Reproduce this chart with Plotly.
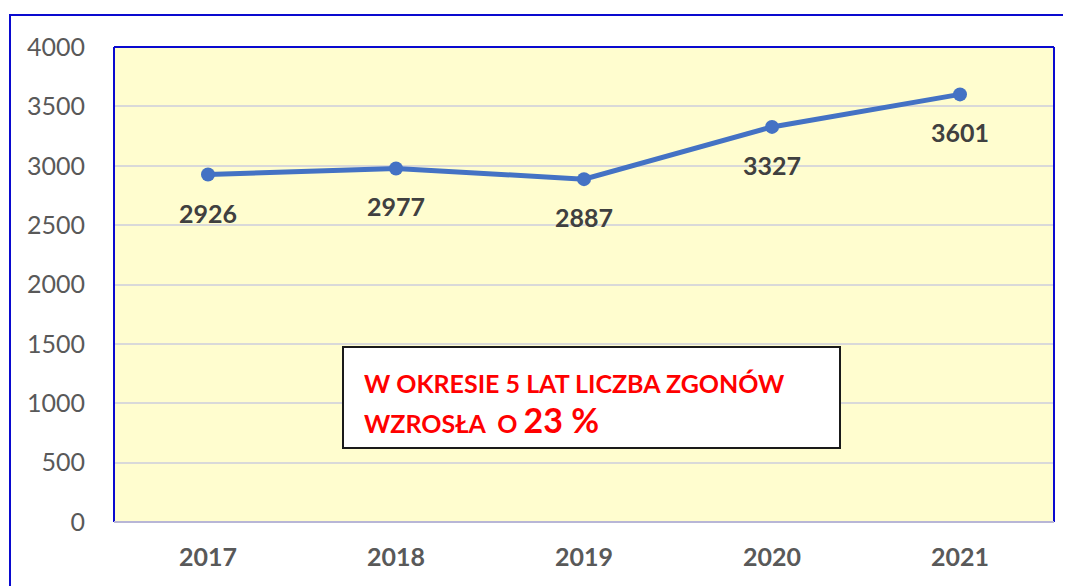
import plotly.graph_objects as go

years = ["2017", "2018", "2019", "2020", "2021"]
deaths = [2926, 2977, 2887, 3327, 3601]
y_ticks = [0, 500, 1000, 1500, 2000, 2500, 3000, 3500, 4000]

LINE = "#4472C4"
FRAME = "#0A0ACF"
FONT = "Lato, 'Open Sans', sans-serif"

pos = list(range(len(years)))

fig = go.Figure()
fig.add_trace(go.Scatter(
    x=pos, y=deaths, mode="lines+markers",
    line={"color": LINE, "width": 5},
    marker={"color": LINE, "size": 14},
    showlegend=False, hoverinfo="skip",
))

# value labels below the points
for p, val in zip(pos, deaths):
    fig.add_annotation(
        x=p, y=val, text=f"<b>{val}</b>", showarrow=False, yshift=-38,
        font={"family": FONT, "size": 25, "color": "#404040"},
    )

# note box (paper coords relative to a 940x475 plot area)
fig.add_shape(type="rect", xref="paper", yref="paper",
              x0=229 / 940, x1=726 / 940,
              y0=74 / 475, y1=175 / 475,
              fillcolor="white", line={"color": "#1a1a1a", "width": 2})
note_font = {"family": FONT, "size": 25, "color": "#FF0000"}
fig.add_annotation(
    xref="paper", yref="paper", x=248 / 940, y=139 / 475,
    xanchor="left", yanchor="middle", showarrow=False,
    text="<b>W OKRESIE 5 LAT LICZBA ZGONÓW</b>", font=note_font,
)
fig.add_annotation(
    xref="paper", yref="paper", x=248 / 940, y=103 / 475,
    xanchor="left", yanchor="middle", showarrow=False,
    text="<b>WZROSŁA  O <span style='font-size:34px'>23 %</span></b>",
    font=note_font,
)

# plot-area frame: blue on three sides, pale lilac along the bottom
for x0, y0, x1, y1, col in [(0, 0, 0, 1, FRAME), (0, 1, 1, 1, FRAME),
                            (1, 0, 1, 1, FRAME), (0, 0, 1, 0, "#B8B6D6")]:
    fig.add_shape(type="line", xref="paper", yref="paper",
                  x0=x0, y0=y0, x1=x1, y1=y1,
                  line={"color": col, "width": 2}, layer="above")
# outer frame
fig.add_shape(type="rect", xref="paper", yref="paper",
              x0=-104 / 940, x1=1000 / 940,
              y0=-100 / 475, y1=1 + 32 / 475,
              line={"color": FRAME, "width": 2}, layer="above")

fig.update_xaxes(
    range=[-0.5, 4.5], tickvals=pos, ticktext=years,
    showgrid=False, zeroline=False, showline=False, automargin=False,
    ticks="", ticklabelstandoff=18,
    tickfont={"family": FONT, "size": 25, "color": "#595959", "weight": "bold"},
)
fig.update_yaxes(
    range=[0, 4000], tickvals=y_ticks, showgrid=True, gridcolor="#D9D9D9",
    gridwidth=1.5, zeroline=False, showline=False, ticks="", automargin=False,
    ticklabelstandoff=28,
    tickfont={"family": FONT, "size": 25, "color": "#595959"},
)
# the page adds an 8px body margin, so the margins are set 8px smaller
fig.update_layout(
    width=1071, height=586,
    margin={"l": 106, "r": 25, "t": 39, "b": 72},
    paper_bgcolor="white", plot_bgcolor="#FFFDCF",
)

fig.write_html("out.html")
